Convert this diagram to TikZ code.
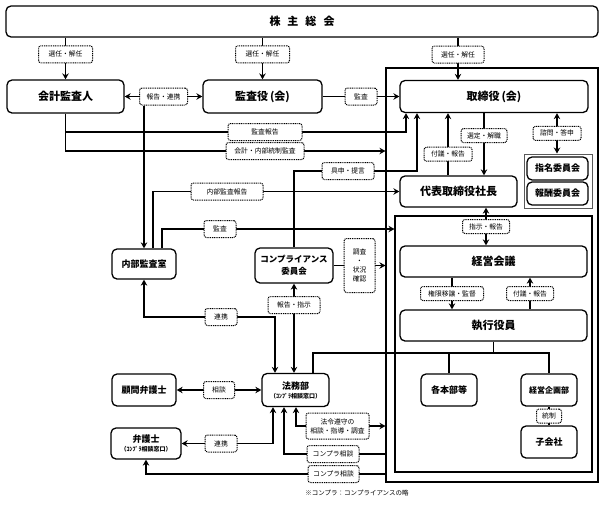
\documentclass[tikz,border=0pt]{standalone}
\usepackage{fontspec}
\setmainfont{Noto Sans CJK JP}
\usepackage{tikz}
\usetikzlibrary{arrows.meta}
\tikzset{
	main node/.style={rectangle,draw,rounded corners=5pt,line width=1.3pt,fill=white,
		align=center,inner sep=1pt,font=\bfseries\fontsize{11}{13}\selectfont},
	small node/.style={main node,font=\bfseries\fontsize{9}{11}\selectfont},
	label node/.style={rectangle,draw,line width=1pt,dash pattern=on 1pt off 0.8pt,
		rounded corners=2.5pt,fill=white,align=center,inner sep=0.5pt,
		minimum height=17pt,minimum width=#1,font=\fontsize{6.8}{9}\selectfont},
	label node/.default=30pt,
	flat/.style={minimum height=14pt},
	frame/.style={rectangle,draw,line width=1.1pt,inner sep=0pt},
	wh/.style 2 args={minimum width=#1,minimum height=#2}
}

\begin{document}
\begin{tikzpicture}[x=1pt,y=-1pt,line width=1.3pt,
	>={Stealth[length=6pt,width=6.5pt,inset=2pt]}]
	\useasboundingbox (0,0) rectangle (605,504);
	\node[frame,wh={212pt}{414pt}] (18) at (492,275) {};
	\node[frame,wh={197pt}{256pt}] (19) at (493.5,344) {};
	\node[frame,draw=black!65,line width=1pt,wh={68pt}{54pt}] (20) at (558,181) {};

	\node[main node,wh={592pt}{31pt}] (1) at (302,21.5) {株\hspace{7pt}主\hspace{7pt}総\hspace{7pt}会};
	\node[main node,wh={117pt}{33pt}] (2) at (65.5,96.5) {会計監査人};
	\node[main node,wh={119pt}{33pt}] (3) at (262.5,96.5) {監査役\,(会)};
	\node[main node,wh={188pt}{32pt}] (4) at (494,96.5) {取締役\,(会)};
	\node[main node,wh={117pt}{31pt}] (5) at (458.5,191.5) {代表取締役社長};
	\node[small node,wh={61pt}{23pt}] (6) at (557.5,168.5) {指名委員会};
	\node[small node,wh={61pt}{23pt}] (7) at (557.5,193.5) {報酬委員会};
	\node[main node,wh={187pt}{31pt}] (8) at (493.5,261.5) {経営会議};
	\node[main node,wh={187pt}{31pt}] (9) at (493.5,325.5) {執行役員};
	\node[small node,wh={56pt}{32pt}] (10) at (449,390) {各本部等};
	\node[small node,wh={56pt}{32pt},font=\bfseries\fontsize{8}{10}\selectfont] (11) at (549,390) {経営企画部};
	\node[small node,wh={56pt}{32pt}] (12) at (549,442) {子会社};
	\node[small node,wh={64pt}{30pt}] (13) at (144,264) {内部監査室};
	\node[small node,wh={78pt}{35pt},font=\bfseries\fontsize{8.5}{12}\selectfont] (14) at (294,265.5) {コンプライアンス\\委員会};
	\node[small node,wh={67pt}{33pt}] (15) at (295.5,390) {法務部\\[-2pt]{\fontsize{6}{7}\selectfont （ｺﾝﾌﾟﾗ相談窓口）}};
	\node[small node,wh={64pt}{32pt}] (16) at (144,390) {顧問弁護士};
	\node[small node,wh={70pt}{31pt}] (17) at (146,443.5) {弁護士\\[-2pt]{\fontsize{6}{7}\selectfont （ｺﾝﾌﾟﾗ相談窓口）}};

	\draw[->] (2 |- 1.south) -- node[label node=54pt,pos=0.4] (l1) {選任・解任} (2.north);
	\draw[->] (3 |- 1.south) -- node[label node=54pt,pos=0.4] (l2) {選任・解任} (3.north);
	\draw[->] (458,0 |- 1.south) -- node[label node=52pt,pos=0.4] (l3) {選任・解任} (458,0 |- 4.north);
	\draw[<->] (2) -- node[label node=48pt] (l4) {報告・連携} (3);
	\draw[->] (13 |- l4.south) -- (13.north);
	\draw[->] (3) -- node[label node=32pt] (l5) {監査} (4);
	\draw[->] (2.south) |- (265,132) node[label node=74pt] (l6) {監査報告} -| (406,0 |- 4.south);
	\draw[->] (2.south) |- (265,151) node[label node=78pt] (l7) {会計・内部統制監査} -- (18.west |- 0,151);
	\draw[->] (14.north) |- (348,171) node[label node=52pt] (l8) {具申・提言} -| (417,0 |- 4.south);
	\draw[->] (153,0 |- 13.north) |- (227,191.5) node[label node=72pt] (l9) {内部監査報告} -- (5.west);
	\draw[->] (162,0 |- 13.north) |- (220,229) node[label node=32pt] (l10) {監査} -- (19.west |- 0,229);
	\draw[->] (14.east) -- node[label node=31pt,minimum height=54pt] (l11) {調査\\・\\状況\\確認} (18.west |- 14.east);
	\draw[<->] (14.south) -- node[label node=52pt,pos=0.24] (l12) {報告・指示} (14.south |- 15.north);
	\draw[<->] (13.south) |- (221,317) node[label node=32pt] (l13) {連携} -| (275,0 |- 15.north);
	\draw[<->] (16) -- node[label node=31pt] (l14) {相談} (15);
	\draw[<->] (17.east) -- (221,0 |- 17.east) node[label node=32pt] (l15) {連携} -| (273,0 |- 15.south);
	\draw[<->] (296,0 |- 15.south) |- (337.5,426) node[label node=63pt,minimum height=26pt] (l16) {法令遵守の\\相談・指導・調査} -- (18.west |- 0,426);
	\draw[->] (18.west |- 0,454) -- (333,454) node[label node=52pt] (l17) {コンプラ相談} -| (284,0 |- 15.south);
	\draw[->] (18.west |- 0,474) -- (333.5,474) node[label node=51pt] (l18) {コンプラ相談} -| (17.south);

	\draw[->] (484,0 |- 4.south) -- node[label node=46pt,flat,pos=0.36] (l19) {選定・解職} (484,0 |- 5.north);
	\draw[->] (448,0 |- 5.north) -- node[label node=48pt,flat,pos=0.34] (l20) {付議・報告} (448,0 |- 4.south);
	\draw[<->] (557,0 |- 4.south) -- node[label node=48pt,flat] (l21) {諮問・答申} (557,0 |- 20.north);
	\draw[<->] (486,0 |- 5.south) -- node[label node=47pt,flat] (l22) {指示・報告} (486,0 |- 8.north);
	\draw[->] (452,0 |- 8.south) -- node[label node=63pt,flat] (l23) {権限移譲・監督} (452,0 |- 9.north);
	\draw[->] (530,0 |- 9.north) -- node[label node=47pt,flat] (l24) {付議・報告} (530,0 |- 8.south);

	\draw (313,0 |- 15.north) |- (549,353) -- (11.north);
	\draw (9.south) -- (9 |- 0,353);
	\draw (10.north) -- (10 |- 0,353);
	\draw (11.south) -- node[label node=25pt,flat] (l25) {統制} (12.north);

	\node[font=\fontsize{6.5}{8}\selectfont] (21) at (357,493) {※コンプラ：コンプライアンスの略};
\end{tikzpicture}
\end{document}
